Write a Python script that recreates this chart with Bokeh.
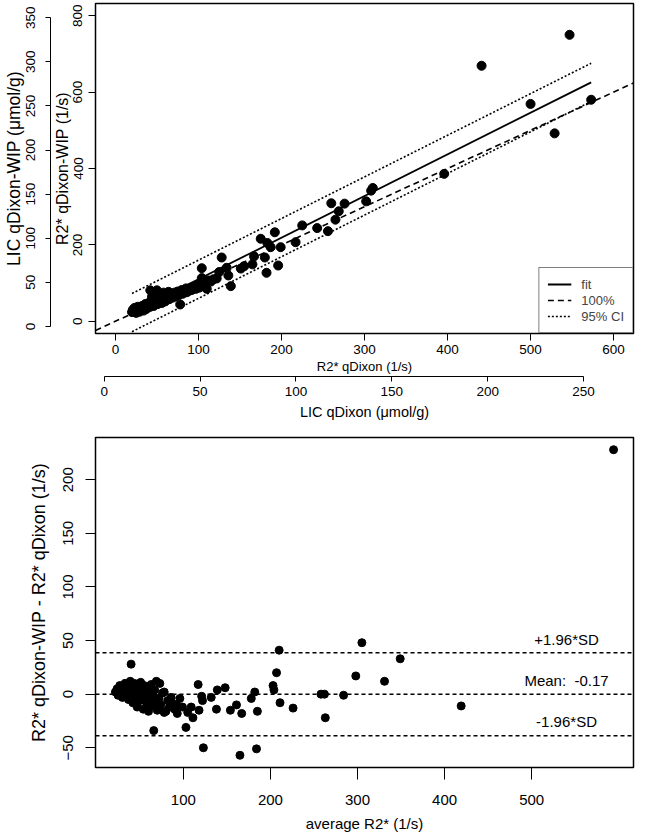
from bokeh.plotting import figure
from bokeh.models import (Range1d, LinearAxis, FixedTicker, Legend, LegendItem,
                          Span, Label, Column)
from bokeh.embed import file_html
from bokeh.resources import INLINE

FONT = "Liberation Sans"

# ---------------- data: top panel (R2* qDixon vs R2* qDixon-WIP, 1/s) -------------
r2_qdixon = [20, 21, 22, 23, 24, 25, 25, 26, 27, 28, 29, 30, 31, 32, 33, 34, 35, 36, 37, 38,
             39, 40, 41, 42, 42, 43, 44, 45, 46, 47, 48, 49, 50, 50, 51, 52, 53, 54, 55, 56,
             57, 58, 59, 60, 61, 62, 63, 64, 65, 66, 68, 69, 70, 71, 72, 74, 75, 76, 78, 78,
             80, 81, 83, 85, 86, 88, 89, 91, 92, 94, 96, 97, 99, 101, 103, 104, 104, 106, 108, 110,
             112, 115, 118, 122, 125, 128, 134, 136, 139, 151, 155, 165, 167, 175, 180, 182, 183, 187, 192, 196,
             199, 217, 225, 243, 256, 260, 265, 269, 276, 302, 308, 310, 396, 441, 500, 529, 547, 573]
r2_wip = [24, 30, 26, 35, 28, 22, 32, 27, 38, 30, 25, 34, 29, 40, 33, 28, 37, 45, 32, 40,
          36, 48, 42, 81, 38, 50, 64, 44, 40, 55, 47, 72, 81, 52, 45, 58, 50, 68, 55, 48,
          62, 75, 57, 52, 66, 60, 70, 77, 58, 64, 72, 62, 68, 75, 65, 70, 78, 68, 44, 74,
          82, 72, 78, 86, 76, 85, 80, 88, 82, 90, 90, 85, 95, 88, 98, 113, 139, 92, 100, 85,
          107, 104, 110, 112, 129, 167, 140, 120, 92, 138, 144, 149, 170, 216, 167, 127, 205, 194, 233, 146,
          194, 207, 251, 244, 236, 309, 266, 288, 308, 314, 342, 349, 386, 669, 569, 492, 750, 580]

# regression fit and 95% CI
fit_intercept = 1.0
fit_slope = 1.09
ci_half_width = 50.0

top_x_lim = [0, 600]
top_y_lim = [0, 800]
top_x_ticks = [0, 100, 200, 300, 400, 500, 600]
top_y_ticks = [0, 200, 400, 600, 800]
lic_x_ticks = [0, 50, 100, 150, 200, 250]
lic_y_ticks = [0, 50, 100, 150, 200, 250, 300, 350]
# LIC (umol/g) = lic_k * (R2* + lic_c)
lic_k = 0.433
lic_c = 13.5

# ---------------- data: bottom panel (Bland-Altman) ----------------
avg_r2 = [22, 24, 25, 26, 27, 28, 29, 30, 31, 32, 33, 34, 35, 36, 37, 38, 39, 40, 40, 41,
          42, 43, 44, 45, 46, 47, 48, 49, 50, 51, 52, 53, 54, 55, 56, 57, 58, 59, 60, 61,
          62, 63, 64, 66, 66, 67, 68, 69, 70, 72, 73, 74, 76, 78, 78, 80, 82, 84, 86, 88,
          90, 92, 93, 96, 99, 103, 105, 109, 111, 117, 118, 121, 122, 123, 132, 138, 139, 148, 154, 161,
          165, 167, 178, 182, 184, 185, 203, 204, 207, 210, 211, 226, 258, 262, 263, 284, 298, 305, 331, 349,
          419, 594]
diff_r2 = [2, 5, -1, 3, 8, 0, 4, -3, 6, 1, 10, -2, 4, 8, -5, 2, 12, -1, 28, 6,
           -8, 3, 10, -3, 7, -12, 1, 5, -6, 11, -2, 4, -14, 8, -4, 0, -9, 6, -16, 2,
           -6, 9, -11, -2, -34, 4, -8, 12, -15, -4, 10, -10, 1, 2, -17, -16, -6, -12, -3, -9,
           -14, -10, -18, -4, -12, -31, -17, -12, -22, 9, -15, -2, -6, -50, -3, -14, 4, 6, -15, -10,
           -57, -18, -4, 2, -51, -16, 8, 4, 20, 41, -8, -13, 0, 0, -22, -1, 17, 48, 12, 33,
           -11, 228]
mean_diff = -0.17
loa_half = 38.7
bottom_x_ticks = [100, 200, 300, 400, 500]
bottom_y_ticks = [-50, 0, 50, 100, 150, 200]


def r_range(lo, hi):
    pad = 0.04 * (hi - lo)
    return lo - pad, hi + pad


def style_axis(ax, size, tick_out, standoff, title_standoff, title_size=None, vertical=False):
    ax.major_label_text_font = FONT
    ax.major_label_text_font_size = size
    ax.major_label_text_color = "black"
    ax.axis_label_text_font = FONT
    ax.axis_label_text_font_size = title_size or size
    ax.axis_label_text_font_style = "normal"
    ax.axis_label_text_color = "black"
    ax.major_tick_out = tick_out
    ax.major_tick_in = 0
    ax.minor_tick_out = 0
    ax.minor_tick_in = 0
    ax.major_tick_line_color = "black"
    ax.major_tick_line_width = 1
    ax.axis_line_color = "black"
    ax.axis_line_width = 1
    ax.major_label_standoff = standoff
    ax.axis_label_standoff = title_standoff
    if vertical:
        ax.major_label_orientation = "parallel"


# ================= TOP PANEL =================
x0, x1 = r_range(*top_x_lim)
y0, y1 = r_range(*top_y_lim)
p1 = figure(width=649, height=425, output_backend="svg", toolbar_location=None,
            x_range=Range1d(x0, x1), y_range=Range1d(y0, y1),
            min_border_left=95, min_border_right=16, min_border_top=3, min_border_bottom=92)
p1.extra_x_ranges = {"lic": Range1d(lic_k * (x0 + lic_c), lic_k * (x1 + lic_c))}
p1.extra_y_ranges = {"lic": Range1d(lic_k * (y0 + lic_c), lic_k * (y1 + lic_c))}
p1.xgrid.visible = False
p1.ygrid.visible = False
p1.outline_line_color = "black"
p1.outline_line_width = 1.5
p1.outline_line_alpha = 1

p1.xaxis.ticker = FixedTicker(ticks=top_x_ticks)
p1.yaxis.ticker = FixedTicker(ticks=top_y_ticks)
p1.xaxis.axis_label = "R2* qDixon (1/s)"
p1.yaxis.axis_label = "R2* qDixon-WIP (1/s)"
style_axis(p1.xaxis[0], "13.5px", 7, 4, 2, title_size="13px")
style_axis(p1.yaxis[0], "13.5px", 7, 6, 0, title_size="16px", vertical=True)

lic_xax = LinearAxis(x_range_name="lic", ticker=FixedTicker(ticks=lic_x_ticks),
                     axis_label="LIC qDixon (μmol/g)", bounds=(lic_x_ticks[0], lic_x_ticks[-1]))
style_axis(lic_xax, "13.5px", 5, 5, 5, title_size="14.5px")
p1.add_layout(lic_xax, "below")
lic_yax = LinearAxis(y_range_name="lic", ticker=FixedTicker(ticks=lic_y_ticks),
                     axis_label="LIC qDixon-WIP (μmol/g)", bounds=(lic_y_ticks[0], lic_y_ticks[-1]))
style_axis(lic_yax, "13.5px", 5, 10, 0, title_size="17.5px", vertical=True)
p1.add_layout(lic_yax, "left")

p1.scatter(r2_qdixon, r2_wip, size=9, color="black", marker="circle")

xs_fit = [min(r2_qdixon), max(r2_qdixon)]
r_fit = p1.line(xs_fit, [fit_intercept + fit_slope * v for v in xs_fit],
                line_color="black", line_width=1.8)
r_ci_hi = p1.line(xs_fit, [fit_intercept + ci_half_width + fit_slope * v for v in xs_fit],
                  line_color="black", line_width=1.6, line_dash="2 2")
r_ci_lo = p1.line(xs_fit, [fit_intercept - ci_half_width + fit_slope * v for v in xs_fit],
                  line_color="black", line_width=1.6, line_dash="2 2")
r_id = p1.line([x0, x1], [x0, x1], line_color="black", line_width=1.6, line_dash="6 4")

legend = Legend(items=[LegendItem(label="fit", renderers=[r_fit]),
                       LegendItem(label="100%", renderers=[r_id]),
                       LegendItem(label="95% CI", renderers=[r_ci_hi])],
                location="bottom_right", margin=0, padding=8, spacing=0,
                label_height=16, glyph_height=16, glyph_width=24, label_standoff=10,
                label_text_font=FONT, label_text_font_size="13px",
                border_line_color="black", border_line_width=1.5,
                background_fill_color="white", background_fill_alpha=1)
p1.add_layout(legend)

# ================= BOTTOM PANEL =================
bx0, bx1 = r_range(min(avg_r2), max(avg_r2))
by0, by1 = r_range(min(diff_r2), max(diff_r2))
p2 = figure(width=649, height=412, output_backend="svg", toolbar_location=None,
            x_range=Range1d(bx0, bx1), y_range=Range1d(by0, by1),
            min_border_left=77, min_border_right=4, min_border_top=12, min_border_bottom=70)
p2.xgrid.visible = False
p2.ygrid.visible = False
p2.outline_line_color = "black"
p2.outline_line_width = 1.5
p2.outline_line_alpha = 1
p2.xaxis.ticker = FixedTicker(ticks=bottom_x_ticks)
p2.yaxis.ticker = FixedTicker(ticks=bottom_y_ticks)
p2.xaxis.axis_label = "average R2* (1/s)"
p2.yaxis.axis_label = "R2* qDixon-WIP - R2* qDixon (1/s)"
style_axis(p2.xaxis[0], "15px", 12, 15, 7)
style_axis(p2.yaxis[0], "15px", 10, 12, 12, title_size="18px", vertical=True)

for loc in [mean_diff + loa_half, mean_diff, mean_diff - loa_half]:
    p2.add_layout(Span(location=loc, dimension="width", line_color="black",
                       line_width=1.5, line_dash="4 3"))

p2.scatter(avg_r2, diff_r2, size=8, color="black", marker="circle")

label_x = 540
for txt, yv in [("+1.96*SD", mean_diff + loa_half + 12),
                ("Mean:\u00a0 %.2f" % mean_diff, mean_diff + 13),
                ("-1.96*SD", mean_diff - loa_half + 13)]:
    p2.add_layout(Label(x=label_x, y=yv, text=txt, text_align="center",
                        text_baseline="middle", text_font=FONT,
                        text_font_size="15px", text_color="black"))

layout = Column(p1, p2, spacing=0)
open("out.html", "w").write(file_html(layout, INLINE))
